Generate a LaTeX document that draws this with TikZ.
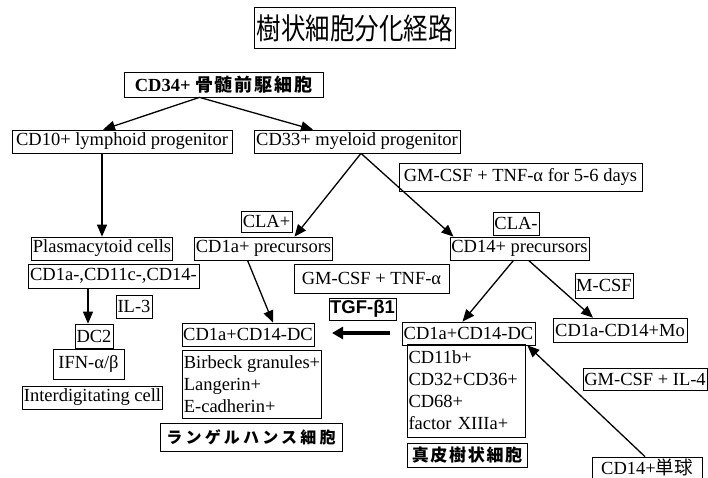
\documentclass[tikz,border=0pt]{standalone}
\usepackage{fontspec}
\setmainfont{Liberation Serif}
\newfontfamily\cjk{Noto Sans CJK JP}
\newfontfamily\cjksp[LetterSpace=10]{Noto Sans CJK JP}
\newfontfamily\cjkwide[LetterSpace=20]{Noto Sans CJK JP}
\newfontfamily\arialfont{Liberation Sans}
\usepackage{graphicx}
\usepackage{tikz}
\usetikzlibrary{arrows.meta,positioning}

\begin{document}
\begin{tikzpicture}[x=1pt,y=-1pt,font=\fontsize{18.5}{22}\selectfont,
  box/.style={draw,line width=0.7pt,inner sep=1.2pt,minimum height=23pt},
  arr/.style={-{Triangle[length=12pt,width=10pt]},line width=1.3pt},
  fat/.style={-{Triangle[length=11pt,width=12pt]},line width=4pt}]
\useasboundingbox (0,0) rectangle (708,478);
% title
\node[box,line width=1pt,minimum width=201pt,minimum height=41pt] (title) at (354.5,28.5)
  {\cjk\fontsize{24.5}{26}\selectfont\scalebox{1}[1.2]{樹状細胞分化経路}};
% top of the tree
\node[box,minimum width=199pt,minimum height=25pt] (cd34) at (223.5,84.5)
  {\textbf{CD34+} {\cjksp\bfseries\fontsize{18}{20}\selectfont 骨髄前駆細胞}};
\node[box,minimum width=220pt] (cd10) at (122,141.5) {CD10+ lymphoid progenitor};
\node[box,minimum width=206pt] (cd33) at (357,141.5) {CD33+ myeloid progenitor};
% lymphoid branch
\node[box,minimum width=140pt] (plasma) at (102,248.5) {Plasmacytoid cells};
\node[box,minimum width=171pt,minimum height=24pt] (markers) at (113.5,276) {CD1a-,CD11c-,CD14-};
\node[box,minimum width=36pt] (il3) at (134,306.5) {IL-3};
\node[box,minimum width=38pt,minimum height=24pt] (dc2) at (94,336) {DC2};
\node[box,minimum width=71pt,minimum height=30pt] (ifn) at (88.5,364) {IFN-α/β};
\node[box,minimum width=139pt] (idc) at (92.5,397.5) {Interdigitating cell};
% myeloid branch
\node[box,minimum width=243pt,minimum height=28pt] (gmtnf5) at (520.5,177) {GM-CSF + TNF-α for 5-6 days};
\node[box,minimum width=51pt,minimum height=21pt] (claplus) at (266.5,221.5) {CLA+};
\node[box,minimum width=137pt] (cd1apre) at (263.5,248.5) {CD1a+ precursors};
\node[box,minimum width=46pt] (claminus) at (516,223.5) {CLA-};
\node[box,minimum width=137pt] (cd14pre) at (519.5,248.5) {CD14+ precursors};
\node[box,minimum width=155pt,minimum height=29pt] (gmtnf) at (371.5,278.5) {GM-CSF + TNF-α};
\node[box,minimum width=65pt,minimum height=22pt] (tgf) at (362.5,309) {\arialfont\bfseries TGF-β1};
\node[box,minimum width=58pt,minimum height=25pt] (mcsf) at (604,285.5) {M-CSF};
% Langerhans side
\node[box,minimum width=132pt] (lcdc) at (248,334.5) {CD1a+CD14-DC};
\node[box,minimum width=138pt,minimum height=68pt,align=left] (birbeck) at (252,384)
  {Birbeck granules+\\Langerin+\\E-cadherin+};
\node[box,minimum width=182pt,minimum height=28pt] (lc) at (251,437)
  {\cjkwide\bfseries\fontsize{16}{18}\selectfont ランゲルハンス細胞};
% dermal side
\node[box,minimum width=133pt] (ddc) at (468.5,333.5) {CD1a+CD14-DC};
\node[box,minimum width=134pt,minimum height=24pt] (mo) at (620,330) {CD1a-CD14+Mo};
\node[box,text width=116pt,minimum height=93pt,align=left] (dmark) at (466.5,390.5)
  {CD11b+\\CD32+CD36+\\CD68+\\factor XIIIa+};
\node[box,minimum width=120pt,minimum height=24pt] (ddcj) at (467,455)
  {\cjksp\bfseries\fontsize{17}{19}\selectfont 真皮樹状細胞};
\node[box,minimum width=124pt,minimum height=22pt] (gmil4) at (645,379) {GM-CSF + IL-4};
\node[box,minimum width=110pt,minimum height=21pt] (mono) at (647,467.5) {CD14+{\cjk 単球}};
% arrows
\coordinate (dc2in) at ([xshift=-6pt]dc2.north);
\coordinate (tgfa) at (390,333);
\coordinate (tgfb) at (332,333);
\draw[arr] ([xshift=-24pt]cd34.south) -- ([xshift=-19pt]cd10.north);
\draw[arr] ([xshift=-24pt]cd34.south) -- ([xshift=-44pt]cd33.north);
\draw[arr] (plasma.north |- cd10.south) -- (plasma.north);
\draw[arr] ([xshift=4pt]cd33.south) -- ([xshift=31pt]cd1apre.north);
\draw[arr] ([xshift=4pt]cd33.south) -- ([xshift=-66pt]cd14pre.north);
\draw[arr] (dc2in |- markers.south) -- (dc2in);
\draw[arr] ([xshift=-16pt]cd1apre.south) -- ([xshift=25pt]lcdc.north);
\draw[arr] ([xshift=-6pt]cd14pre.south) -- ([xshift=-6pt]ddc.north);
\draw[arr] ([xshift=9pt]cd14pre.south) -- ([xshift=-27pt]mo.north);
\draw[arr] ([xshift=-2pt]mono.north) -- ([xshift=-8pt]ddc.south east);
\draw[fat] (tgfa) -- (tgfb);
\end{tikzpicture}
\end{document}
